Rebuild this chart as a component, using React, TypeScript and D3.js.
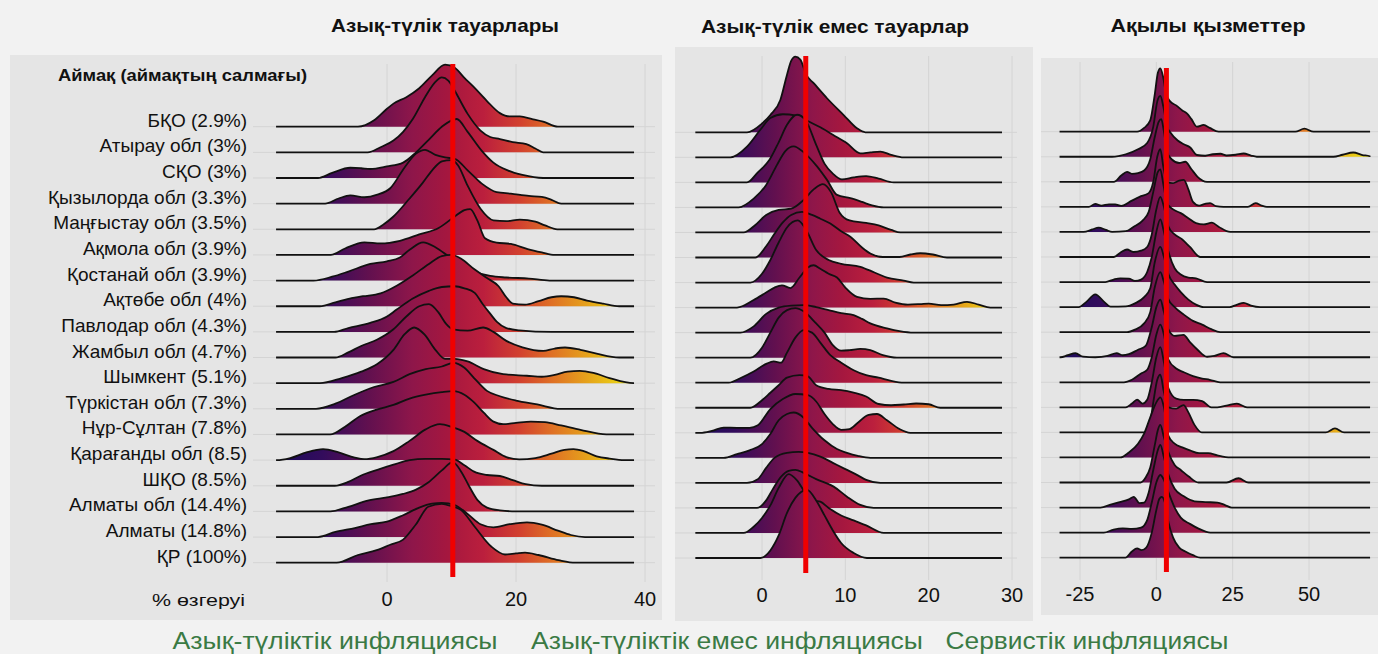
import React from "react";
import * as d3 from "d3";

type P = [number, number];

const regions = [
  "БҚО (2.9%)", "Атырау обл (3%)", "СҚО (3%)", "Қызылорда обл (3.3%)", "Маңғыстау обл (3.5%)",
  "Ақмола обл (3.9%)", "Қостанай обл (3.9%)", "Ақтөбе обл (4%)", "Павлодар обл (4.3%)",
  "Жамбыл обл (4.7%)", "Шымкент (5.1%)", "Түркістан обл (7.3%)", "Нұр-Сұлтан (7.8%)",
  "Қарағанды обл (8.5)", "ШҚО (8.5%)", "Алматы обл (14.4%)", "Алматы (14.8%)", "ҚР (100%)",
];
const panelTitles = ["Азық-түлік тауарлары", "Азық-түлік емес тауарлар", "Ақылы қызметтер"];
const footerLabels = ["Азық-түліктік инфляциясы", "Азық-түліктік емес инфляциясы", "Сервистік инфляциясы"];
const headerLabel = "Аймақ (аймақтың салмағы)";
const axisLabel = "% өзгеруі";

const foodTicks = [0, 20, 40];
const nonFoodTicks = [0, 10, 20, 30];
const serviceTicks = [-25, 0, 25, 50];

const foodMean = 10.2;
const nonFoodMean = 5.25;
const serviceMean = 3.3;

const foodRange: P = [-17.2, 38.3];
const nonFoodRange: P = [-8, 28.8];
const serviceRange: P = [-31.7, 70];

const foodRidges: P[][] = [
  [[-4.5,0],[-2,0.25],[0,0.7],[1,0.9],[3,1.15],[5,1.5],[7,2.0],[9,2.42],[10.5,2.3],[12,1.9],[13.4,1.56],[15.5,1.0],[17.5,0.53],[19,0.4],[20.6,0.4],[22.5,0.3],[24.2,0.2],[26.5,0]],
  [[-3,0],[-1,0.2],[1,0.46],[2.5,0.8],[4,1.3],[6,2.2],[7.5,2.75],[8.5,2.92],[9.5,2.8],[10.5,2.4],[12.5,1.5],[14.5,0.85],[16,0.6],[17.5,0.52],[19.5,0.4],[21.6,0.32],[23,0.15],[24.2,0]],
  [[-10.7,0],[-8.5,0.2],[-5.7,0.4],[-4,0.38],[-2.6,0.35],[0,0.45],[2.5,0.6],[4.5,1.0],[6.5,1.5],[8.5,2.0],[10.8,2.3],[12.5,1.8],[14.7,1.06],[16.5,0.6],[18.8,0.29],[21,0.12],[24.2,0]],
  [[-9.6,0],[-7.5,0.2],[-5.7,0.32],[-3.5,0.25],[-1.5,0.35],[0.5,0.6],[2.7,1.4],[4.5,1.95],[5.9,2.1],[7.5,1.9],[9,1.8],[10.5,1.75],[12.5,1.3],[14.7,0.78],[17,0.45],[19.2,0.39],[22,0.3],[24,0.26],[25.5,0.15],[27,0]],
  [[-2,0],[-0.5,0.2],[1,0.5],[3.5,1.2],[5.5,1.8],[7,2.3],[8.5,2.65],[10,2.7],[11,2.5],[12.5,1.7],[14.5,0.8],[16.5,0.35],[18.5,0.32],[20.6,0.38],[23,0.3],[24.5,0.15],[26.4,0]],
  [[-8.7,0],[-6.5,0.25],[-3.5,0.49],[-1,0.45],[2,0.55],[5,0.8],[8,1.05],[10.5,1.5],[12,1.75],[12.9,1.79],[14,1.35],[15.2,0.65],[17,0.48],[19.2,0.43],[21.8,0.23],[24,0.1],[26,0]],
  [[-11.4,0],[-8.5,0.15],[-6,0.35],[-2.6,0.65],[0,0.75],[2,0.9],[3.5,1.2],[5.6,1.49],[7.5,1.3],[9.5,0.95],[11.5,0.6],[13.5,0.35],[16,0.18],[18.5,0.12],[22,0.08],[25.2,0]],
  [[-10.4,0],[-8,0.15],[-5.5,0.32],[-3.7,0.39],[-1,0.5],[1.5,0.8],[4,1.2],[6.5,1.65],[8.5,1.95],[10,2.0],[11.5,1.85],[13.5,1.45],[15.5,1.1],[17.3,0.78],[18.5,0.35],[19.5,0.1],[21.4,0.06],[23.5,0.2],[25.5,0.35],[27,0.39],[29,0.35],[31,0.22],[33.5,0.1],[36,0]],
  [[-8.2,0],[-6,0.15],[-2.6,0.35],[0,0.6],[1.5,0.87],[4,1.3],[6.5,1.6],[8.5,1.75],[10.5,1.78],[12,1.7],[13.6,1.52],[14.8,1.1],[15.9,0.74],[17,0.4],[18.5,0.15],[20.5,0.06],[25.5,0]],
  [[-8,0],[-6,0.2],[-4,0.45],[-1.5,0.7],[1,1.1],[3,1.6],[5,2.0],[6.5,2.08],[8,1.75],[9.2,1.3],[10.2,1.1],[12.5,1.05],[14.9,1.17],[16.5,1.0],[18.5,0.65],[21,0.4],[24.2,0.26],[26,0.35],[27.6,0.39],[30,0.3],[32.5,0.15],[36,0]],
  [[-10.4,0],[-7,0.2],[-4,0.45],[-1.5,0.75],[1,1.3],[2.7,1.9],[4.2,2.17],[5.8,1.9],[7.5,1.3],[9,0.95],[10.5,0.95],[12.5,0.85],[15,0.55],[18,0.35],[21.7,0.29],[24,0.25],[26,0.32],[28,0.45],[29.9,0.48],[32,0.4],[34.5,0.2],[38.2,0]],
  [[-11,0],[-8,0.2],[-5,0.55],[-2,0.85],[1,1.05],[3.5,1.35],[6,1.55],[8.5,1.65],[10.3,1.79],[12,1.6],[13.5,1.2],[15.5,0.7],[17.5,0.49],[20,0.32],[23.3,0.17],[26.9,0]],
  [[-8.8,0],[-6.5,0.3],[-4.2,0.71],[-1.6,0.97],[1,1.15],[3.5,1.4],[6,1.55],[8.5,1.65],[10.3,1.69],[12,1.55],[13.5,1.25],[15,0.85],[16.5,0.5],[18,0.4],[20,0.45],[22.3,0.5],[24.5,0.48],[27,0.35],[30,0.18],[34,0]],
  [[-17.1,0],[-15,0.08],[-12.5,0.3],[-9.9,0.43],[-7.5,0.3],[-5,0.1],[-3.5,0.04],[-1.5,0.12],[1,0.35],[3.5,0.75],[6,1.2],[8.2,1.4],[10,1.3],[12,1.1],[14,0.75],[16.5,0.4],[18.5,0.12],[20.5,0.03],[23,0.08],[25.5,0.25],[27.5,0.4],[28.9,0.43],[30.5,0.35],[32.5,0.15],[34.5,0.06],[36.8,0]],
  [[-8.1,0],[-6,0.15],[-4,0.4],[-1.5,0.62],[1,0.82],[3.5,1.0],[6,1.05],[8.5,1.05],[10.5,1.02],[12,0.8],[13.5,0.55],[15.5,0.42],[17.5,0.38],[19.5,0.22],[21.5,0.06],[24,0]],
  [[-8.8,0],[-6,0.18],[-3,0.42],[0,0.55],[2.5,0.68],[4.5,0.85],[6.5,1.15],[8.5,1.6],[10.2,1.92],[11.5,1.55],[12.8,0.95],[14,0.45],[15.5,0.15],[17.5,0.04],[20,0]],
  [[-10.7,0],[-8,0.2],[-5,0.35],[-2.5,0.5],[0,0.6],[2.5,0.85],[5,1.15],[7,1.3],[8.5,1.33],[10.5,1.25],[12.5,0.9],[14.5,0.5],[16.5,0.38],[19,0.5],[21.7,0.57],[24,0.48],[26.5,0.25],[28.5,0.08],[30.7,0]],
  [[-7.8,0],[-4.5,0.3],[-1.6,0.49],[0.5,0.7],[2.5,0.9],[4.5,1.5],[6.4,2.18],[8.5,2.29],[10,2.2],[11.5,2.05],[13.6,1.4],[16.2,0.62],[18.3,0.32],[20,0.36],[21.4,0.39],[23.5,0.3],[26.6,0.1],[29.2,0]],
];

const nonFoodRidges: P[][] = [
  [[-1.8,0],[0,0.35],[1,0.69],[2.2,1.29],[3,2.3],[3.5,2.85],[4,3.02],[4.6,2.9],[5.3,2.3],[6.2,1.96],[7.8,1.36],[9.8,0.69],[11.4,0.16],[12.4,0]],
  [[-3.8,0],[-1.8,0.43],[-0.2,1.1],[1,1.57],[2.5,1.72],[4,1.68],[5.5,1.45],[7,1.2],[8.5,0.9],[10.2,0.56],[11.8,0.16],[13,0.2],[14.2,0.23],[15.5,0.1],[17,0]],
  [[-1.8,0],[-0.5,0.4],[0.9,0.9],[2,1.6],[3,2.3],[4.2,2.7],[5.2,2.5],[6.5,1.5],[7.5,0.75],[8.5,0.35],[9.6,0.12],[11,0.2],[12.5,0.25],[14,0.15],[15.8,0]],
  [[-2.8,0],[-1,0.35],[0.5,0.9],[1.8,1.7],[2.8,2.25],[3.8,2.44],[5,2.2],[6.6,1.64],[7.8,1.1],[9,0.5],[10.6,0.37],[12,0.22],[13.2,0.08],[14.6,0]],
  [[-2.2,0],[-0.8,0.3],[0.5,0.7],[2,0.9],[3.5,0.95],[5,1.3],[6.3,1.75],[7.3,1.93],[8.3,1.6],[9.3,0.8],[10.5,0.48],[12.5,0.38],[14,0.28],[15.5,0.1],[16.6,0]],
  [[-0.8,0],[0.5,0.45],[1.5,0.95],[2.5,1.4],[3.5,1.7],[4.8,1.82],[6,1.7],[7,1.55],[8.2,1.36],[9.5,1.05],[10.6,0.83],[12,0.4],[13,0.16],[14.5,0.02],[16.5,0.02],[17.8,0.12],[19,0.17],[20.5,0.12],[22.2,0]],
  [[-1.4,0],[0,0.35],[1,0.9],[2,1.6],[3,2.2],[4.3,2.48],[5.3,2.1],[6.5,1.3],[8,0.9],[9.5,0.75],[11.8,0.63],[13.5,0.4],[15,0.2],[17,0.08],[18.2,0]],
  [[-3,0],[-1,0.3],[0.5,0.6],[1.5,0.8],[2.4,0.89],[3.4,0.78],[4.5,1.2],[5.5,1.6],[6.2,1.69],[7,1.55],[8,1.35],[9,1.2],[10,0.8],[11.4,0.43],[13,0.35],[14.6,0.36],[16,0.2],[17.5,0.12],[19,0.14],[20,0.16],[21.5,0.1],[23,0.12],[24.6,0.23],[26,0.12],[27.4,0]],
  [[-2.6,0],[-1,0.25],[0.5,0.75],[2,1.0],[3.5,1.08],[5,1.1],[6.5,1.02],[8,0.9],[9.5,0.78],[11,0.7],[12,0.55],[13,0.37],[15,0.17],[16.5,0.06],[18.2,0]],
  [[-1.4,0],[0,0.4],[1,1.0],[2,1.6],[3,1.9],[4,1.98],[5,1.85],[6.4,1.4],[7.5,1.0],[8.5,0.5],[9.5,0.28],[10.5,0.3],[11.8,0.35],[13,0.3],[14.5,0.1],[16.2,0]],
  [[-4,0],[-2.5,0.2],[-1,0.45],[0.5,0.75],[1.4,0.85],[2.3,0.8],[3,1.2],[4,1.8],[5,2.1],[6,2.0],[7,1.6],[8.2,1.1],[9.5,0.8],[11,0.5],[12.5,0.3],[14,0.2],[15.5,0.07],[17,0]],
  [[-1.4,0],[0,0.3],[1,0.6],[2,0.9],[3,1.2],[4.5,1.3],[5.5,1.25],[6.5,0.9],[8,0.75],[9.5,0.7],[11,0.6],[12.5,0.45],[14,0.15],[15.5,0.1],[17,0.13],[18.5,0.17],[20,0.14],[21.4,0]],
  [[-7.4,0],[-6,0.08],[-4.6,0.21],[-3,0.2],[-1.5,0.2],[-0.5,0.3],[1,0.95],[2.5,1.35],[4,1.55],[5.5,1.5],[6.5,1.25],[7.5,0.75],[8.5,0.35],[9.5,0.12],[10.5,0.15],[11.5,0.4],[12.8,0.72],[13.8,0.75],[15,0.5],[16.5,0.15],[17.8,0]],
  [[-4.6,0],[-3,0.15],[-1.5,0.3],[0,0.55],[1,0.95],[2,1.5],[3,1.75],[3.8,1.81],[5,1.6],[6,1.2],[7.5,0.7],[9,0.35],[10.2,0.2],[11.5,0.08],[13,0]],
  [[-1.8,0],[-0.5,0.15],[0.5,0.6],[1.5,1.0],[3,1.2],[4.4,1.24],[5.5,1.2],[7,1.05],[8.5,0.8],[10,0.55],[11.5,0.3],[12.5,0.12],[14.2,0]],
  [[-0.6,0],[0.5,0.3],[1.3,0.75],[2.3,1.25],[3.2,1.48],[4,1.52],[5,1.4],[6.5,1.15],[8.6,0.85],[10.2,0.45],[11.8,0.12],[13.4,0]],
  [[-2.2,0],[-1,0.25],[0,0.6],[1,1.1],[2,1.8],[3.2,2.35],[4.2,2.1],[5.2,1.6],[6.2,1.3],[7,1.25],[8,1.0],[9.5,0.7],[11,0.5],[12.5,0.3],[14.6,0]],
  [[-0.2,0],[1,0.3],[2,0.9],[3,1.8],[4,2.4],[5.4,2.72],[6.5,2.3],[7.5,1.7],[8.5,1.1],[9.5,0.6],[11,0.2],[12.6,0]],
];

const serviceRidges: P[][] = [
  [[-6.3,0],[-4,0.15],[-2,0.45],[-0.5,1.5],[0.5,2.35],[1.3,2.53],[2.2,2.2],[3.2,1.5],[4.6,1.2],[6.5,1.05],[8.5,0.85],[10,0.73],[11.5,0.5],[13.3,0.2],[15.5,0.27],[17.5,0.15],[20.4,0],[45.5,0],[48.5,0.12],[51.5,0]],
  [[-14.5,0],[-10,0.1],[-6,0.3],[-3,0.55],[-1,1.2],[0.3,2.2],[1.3,2.43],[2.3,2.0],[3.5,1.2],[4.6,0.97],[7,0.65],[9,0.5],[11.1,0.37],[13.3,0.07],[16,0.04],[18.5,0.1],[21,0.12],[23,0.05],[26,0.08],[28.6,0.13],[31,0.05],[32.9,0],[58,0],[61,0.08],[64.5,0.17],[67.5,0.07],[69.9,0.02]],
  [[-13.9,0],[-11.5,0.25],[-9.6,0.4],[-8,0.32],[-6,0.35],[-4,0.45],[-2,0.9],[-0.5,1.8],[0.8,2.4],[1.6,2.5],[2.5,2.0],[3.5,1.2],[5,0.9],[7.5,0.75],[9.5,0.8],[11.5,0.5],[13.5,0.2],[16.6,0]],
  [[-22.1,0],[-20,0.12],[-18,0.05],[-15.5,0.1],[-13.5,0.1],[-11.5,0.04],[-8,0.25],[-5.5,0.4],[-2.5,0.55],[-1,1.0],[0.3,2.0],[1.3,2.3],[2.3,1.6],[3.5,1.0],[5.5,0.95],[7.5,1.05],[9,1.08],[10.5,0.7],[12,0.2],[14,0.05],[16,0.12],[17.6,0.15],[19.5,0.03],[22,0],[30,0],[32.5,0.15],[34.5,0.05],[36.2,0]],
  [[-23.8,0],[-21,0.1],[-18.9,0.17],[-16.5,0.08],[-14.5,0],[-10,0.03],[-7.5,0.2],[-4.5,0.45],[-2.5,0.8],[-1,1.6],[0.5,2.4],[1.3,2.5],[2.3,1.9],[3.5,1.15],[5.5,0.9],[8,0.75],[10.5,0.55],[13,0.35],[15.5,0.3],[18.2,0.37],[20.5,0.2],[24.2,0]],
  [[-13.9,0],[-11.5,0.2],[-9.6,0.3],[-7.5,0.2],[-5,0.25],[-3,0.4],[-1.5,0.9],[0,1.9],[1.3,2.4],[2.5,2.0],[4,1.2],[6,0.9],[8.5,0.7],[11,0.4],[14.4,0]],
  [[-16.7,0],[-14,0.1],[-11.8,0.15],[-9,0.14],[-7,0.05],[-5,0.1],[-3,0.4],[-1.5,1.0],[0,2.0],[1.3,2.5],[2.5,2.0],[4,1.2],[6,0.55],[8,0.3],[10.5,0.18],[13,0.15],[16.6,0]],
  [[-25.4,0],[-23,0.2],[-20,0.51],[-17,0.2],[-15,0.02],[-10,0.03],[-7,0.15],[-4,0.4],[-2,0.75],[-0.5,1.8],[1.3,2.4],[2.5,2.0],[4,1.3],[6,0.9],[8,0.6],[10.5,0.3],[13,0.1],[15.5,0],[24,0],[26.5,0.1],[28.6,0.17],[31,0.06],[34,0]],
  [[-9.6,0],[-7,0.1],[-4,0.35],[-2,0.8],[-0.5,1.8],[1.3,2.4],[2.5,2.0],[4,1.3],[6,1.0],[9,0.7],[12,0.45],[15,0.3],[18,0.12],[20.9,0]],
  [[-31.4,0],[-29,0.08],[-26.5,0.16],[-24,0.02],[-20,0],[-16,0.05],[-13,0.16],[-11,0.08],[-9,0.12],[-6,0.3],[-3.5,0.45],[-1.5,1.2],[0,2.0],[1.3,2.3],[2.5,1.8],[4,1.1],[6,0.85],[8.9,0.89],[11,0.6],[13.5,0.3],[16.6,0.02],[19,0.05],[22,0.16],[25.3,0]],
  [[-10.6,0],[-8,0.1],[-5,0.35],[-3,0.5],[-1.5,1.0],[0,1.9],[1.3,2.3],[2.5,1.9],[4,0.9],[6.5,0.55],[9,0.4],[12,0.25],[15,0.15],[17.5,0.1],[20.9,0]],
  [[-10.1,0],[-8,0.15],[-6.3,0.31],[-4.5,0.15],[-3,0.3],[-1.5,1.0],[0,2.0],[1.3,2.4],[2.5,1.8],[4,0.75],[6.5,0.35],[9,0.3],[12,0.3],[15,0.25],[18,0],[20,0],[24,0.1],[26.4,0.15],[29.7,0]],
  [[-4.1,0],[-3,0.1],[-2,0.4],[-1,1.2],[0.3,2.1],[1.3,2.3],[2.5,1.6],[4,1.0],[6.5,0.95],[8.9,1.09],[10.5,0.8],[12.5,0.3],[14.9,0],[55.5,0],[58.5,0.16],[61.5,0]],
  [[-11.8,0],[-9,0.2],[-6,0.55],[-4,0.95],[-2,1.6],[0,2.2],[1.3,2.4],[2.5,2.0],[4,0.85],[6,0.55],[8.5,0.4],[11,0.28],[14,0.17],[17,0.17],[20,0.08],[24.2,0]],
  [[-5.2,0],[-3.5,0.2],[-2,0.6],[-0.5,1.5],[0.5,2.1],[1.3,2.3],[2.5,1.8],[4,1.2],[6,0.7],[8,0.5],[10.5,0.25],[13.8,0],[23,0],[26.9,0.17],[30.2,0]],
  [[-18.3,0],[-15,0.12],[-12,0.22],[-9,0.33],[-7.4,0.43],[-5.5,0.18],[-4,0.2],[-2.5,0.6],[-1,1.5],[0.5,2.3],[1.3,2.5],[2.5,2.0],[4,1.3],[6,0.75],[9,0.45],[12.5,0.25],[16,0.22],[20,0.2],[22.5,0.1],[24.7,0]],
  [[-17.2,0],[-14,0.12],[-11,0.17],[-8,0.15],[-5,0.2],[-3,0.5],[-1.5,1.2],[0,2.0],[1.3,2.3],[2.5,2.1],[4,1.6],[6,1.0],[8,0.6],[11,0.35],[14,0.15],[17.7,0]],
  [[-10.1,0],[-8,0.25],[-6.3,0.37],[-4.8,0.3],[-3.3,0.4],[-1.5,1.0],[0,1.9],[1,2.35],[1.8,2.43],[2.8,2.2],[4,1.4],[5.5,0.8],[7.5,0.4],[9.5,0.25],[12,0.1],[14.4,0]],
];

const gradStops: [number, string][] = [
  [0, "#1a0b5c"], [0.13, "#330c5c"], [0.26, "#62104f"], [0.38, "#8e164a"],
  [0.48, "#a5173f"], [0.58, "#bb1f3d"], [0.68, "#d2402f"], [0.77, "#df7025"], [0.88, "#e6a81a"], [1, "#ece314"],
];

type PanelCfg = {
  id: string;
  ridges: P[][];
  range: P;
  ticks: number[];
  mean: number;
  tickDomain: P;
  tickPx: P;
  baseTop: number;
  baseBottom: number;
  bg: [number, number, number, number];
  hGrid: P;
  vGrid: P;
  tickY: number;
  meanY: P;
  title: string;
  titleX: number;
  titleY: number;
  titleW: number;
};

const panels: PanelCfg[] = [
  { id: "food", ridges: foodRidges, range: foodRange, ticks: foodTicks, mean: foodMean,
    tickDomain: [0, 40], tickPx: [387, 645], baseTop: 126.7, baseBottom: 562.7,
    bg: [10, 55, 652, 565], hGrid: [253, 655], vGrid: [64, 582], tickY: 606, meanY: [64, 577],
    title: panelTitles[0], titleX: 445, titleY: 32, titleW: 228 },
  { id: "nonfood", ridges: nonFoodRidges, range: nonFoodRange, ticks: nonFoodTicks, mean: nonFoodMean,
    tickDomain: [0, 30], tickPx: [762, 1012], baseTop: 132.3, baseBottom: 558,
    bg: [675, 47, 358, 574], hGrid: [675, 1017], vGrid: [56, 580], tickY: 602, meanY: [56, 573],
    title: panelTitles[1], titleX: 835, titleY: 33, titleW: 268 },
  { id: "service", ridges: serviceRidges, range: serviceRange, ticks: serviceTicks, mean: serviceMean,
    tickDomain: [-25, 50], tickPx: [1080, 1309], baseTop: 131.7, baseBottom: 557.7,
    bg: [1041, 58, 345, 557], hGrid: [1041, 1378], vGrid: [62, 580], tickY: 601, meanY: [68, 572],
    title: panelTitles[2], titleX: 1208, titleY: 32, titleW: 195 },
];

function Panel({ cfg }: { cfg: PanelCfg }) {
  const x = d3.scaleLinear().domain(cfg.tickDomain).range(cfg.tickPx);
  const y = d3.scalePoint<string>().domain(regions).range([cfg.baseTop, cfg.baseBottom]);
  const step = y.step();
  const gid = `grad-${cfg.id}`;
  const [r0, r1] = cfg.range;
  return (
    <g>
      <rect x={cfg.bg[0]} y={cfg.bg[1]} width={cfg.bg[2]} height={cfg.bg[3]} fill="#e5e5e5" />
      <defs>
        <linearGradient id={gid} gradientUnits="userSpaceOnUse" x1={x(r0)} x2={x(r1)} y1={0} y2={0}>
          {gradStops.map(([o, c], i) => (
            <stop key={i} offset={o} stopColor={c} />
          ))}
        </linearGradient>
      </defs>
      {cfg.ticks.map((t) => (
        <line key={`vg${t}`} x1={x(t)} x2={x(t)} y1={cfg.vGrid[0]} y2={cfg.vGrid[1]} stroke="#d4d4d4" strokeWidth={1} />
      ))}
      {regions.map((r) => (
        <line key={`hg${r}`} x1={cfg.hGrid[0]} x2={cfg.hGrid[1]} y1={y(r)} y2={y(r)} stroke="#d4d4d4" strokeWidth={1} />
      ))}
      {cfg.ridges.map((pts, i) => {
        const base = y(regions[i]) as number;
        const inner = pts.filter((p) => p[0] > r0 && p[0] < r1);
        const full: P[] = [[r0, 0], ...inner, [r1, 0]];
        const area = d3.area<P>().x((d) => x(d[0])).y0(base).y1((d) => base - d[1] * step).curve(d3.curveMonotoneX);
        const line = d3.line<P>().x((d) => x(d[0])).y((d) => base - d[1] * step).curve(d3.curveMonotoneX);
        return (
          <g key={`r${i}`}>
            <path d={area(full) || ""} fill={`url(#${gid})`} />
            <path d={line(full) || ""} fill="none" stroke="#111" strokeWidth={1.8} strokeLinejoin="round" />
          </g>
        );
      })}
      <line x1={x(cfg.mean)} x2={x(cfg.mean)} y1={cfg.meanY[0]} y2={cfg.meanY[1]} stroke="#f00000" strokeWidth={5} />
      {cfg.ticks.map((t) => (
        <text key={`tl${t}`} x={x(t)} y={cfg.tickY} textAnchor="middle" fontSize={20} fill="#111">{t}</text>
      ))}
      <text x={cfg.titleX} y={cfg.titleY} textAnchor="middle" fontSize={19} fontWeight="bold" fill="#111"
        textLength={cfg.titleW} lengthAdjust="spacingAndGlyphs">{cfg.title}</text>
    </g>
  );
}

export default function App() {
  const p1y = d3.scalePoint<string>().domain(regions).range([panels[0].baseTop, panels[0].baseBottom]);
  const footerX = [335, 727, 1087];
  const footerW = [325, 392, 283];
  return (
    <svg width={1378} height={654} style={{ display: "block", position: "absolute", left: 0, top: 0 }}
      fontFamily="'Liberation Sans', Arial, sans-serif">
      <rect x={0} y={0} width={1378} height={654} fill="#f2f2f2" />
      {panels.map((p) => (
        <Panel key={p.id} cfg={p} />
      ))}
      {regions.map((r) => (
        <text key={`lab${r}`} x={247} y={p1y(r)} textAnchor="end" fontSize={19} fill="#111">{r}</text>
      ))}
      <text x={58} y={81} fontSize={17} fontWeight="bold" fill="#111" textLength={249} lengthAdjust="spacingAndGlyphs">{headerLabel}</text>
      <text x={152} y={606} fontSize={17} fill="#111" textLength={93} lengthAdjust="spacingAndGlyphs">{axisLabel}</text>
      {footerLabels.map((f, i) => (
        <text key={f} x={footerX[i]} y={649} textAnchor="middle" fontSize={23} fill="#3a7a44"
          textLength={footerW[i]} lengthAdjust="spacingAndGlyphs">{f}</text>
      ))}
    </svg>
  );
}
